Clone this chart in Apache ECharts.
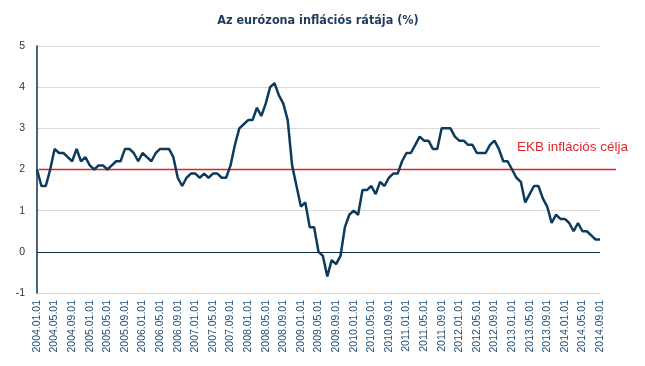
<!DOCTYPE html>
<html>
<head>
<meta charset="utf-8">
<script src="https://cdn.jsdelivr.net/npm/echarts@6/dist/echarts.min.js"></script>
<style>
html,body{margin:0;padding:0;background:#fff;}
#chart{width:645px;height:366px;}
</style>
</head>
<body>
<div id="chart"></div>
<script>
// Monthly categories 2004.01.01 .. 2014.09.01
const startYear = 2004, endYear = 2014, endMonth = 9;
const categories = [];
for (let y = startYear; y <= endYear; y++) {
  for (let m = 1; m <= 12; m++) {
    if (y === endYear && m > endMonth) break;
    categories.push(y + '.' + (m < 10 ? '0' + m : m) + '.01');
  }
}

// Euro area inflation rate (%)
const inflation2004 = [2.0, 1.6, 1.6, 2.0, 2.5, 2.4, 2.4, 2.3, 2.2, 2.5, 2.2, 2.3];
const inflation2005 = [2.1, 2.0, 2.1, 2.1, 2.0, 2.1, 2.2, 2.2, 2.5, 2.5, 2.4, 2.2];
const inflation2006 = [2.4, 2.3, 2.2, 2.4, 2.5, 2.5, 2.5, 2.3, 1.8, 1.6, 1.8, 1.9];
const inflation2007 = [1.9, 1.8, 1.9, 1.8, 1.9, 1.9, 1.8, 1.8, 2.1, 2.6, 3.0, 3.1];
const inflation2008 = [3.2, 3.2, 3.5, 3.3, 3.6, 4.0, 4.1, 3.8, 3.6, 3.2, 2.1, 1.6];
const inflation2009 = [1.1, 1.2, 0.6, 0.6, 0.0, -0.1, -0.6, -0.2, -0.3, -0.1, 0.6, 0.9];
const inflation2010 = [1.0, 0.9, 1.5, 1.5, 1.6, 1.4, 1.7, 1.6, 1.8, 1.9, 1.9, 2.2];
const inflation2011 = [2.4, 2.4, 2.6, 2.8, 2.7, 2.7, 2.5, 2.5, 3.0, 3.0, 3.0, 2.8];
const inflation2012 = [2.7, 2.7, 2.6, 2.6, 2.4, 2.4, 2.4, 2.6, 2.7, 2.5, 2.2, 2.2];
const inflation2013 = [2.0, 1.8, 1.7, 1.2, 1.4, 1.6, 1.6, 1.3, 1.1, 0.7, 0.9, 0.8];
const inflation2014 = [0.8, 0.7, 0.5, 0.7, 0.5, 0.5, 0.4, 0.3, 0.3];
const inflation = [].concat(inflation2004, inflation2005, inflation2006, inflation2007,
  inflation2008, inflation2009, inflation2010, inflation2011, inflation2012,
  inflation2013, inflation2014);

// ECB target
const targetValue = 2;
const targetLabel = 'EKB inflációs célja';
const yTicks = [-1, 0, 1, 2, 3, 4, 5];
const title = 'Az eurózona inflációs rátája (%)';

const chart = echarts.init(document.getElementById('chart'));
chart.setOption({
  animation: false,
  backgroundColor: '#ffffff',
  title: {
    text: title,
    left: 313, top: 9, textAlign: 'center',
    textStyle: { fontFamily: 'DejaVu Sans Condensed, DejaVu Sans', fontWeight: 'bold', fontSize: 12.5, color: '#1f3b5c' }
  },
  grid: [
    { left: 37, right: 45, top: 46, bottom: 73 },
    { left: 39, right: 29, top: 46, bottom: 73 }
  ],
  xAxis: [
    {
      type: 'category', gridIndex: 0, data: categories, boundaryGap: false,
      axisLine: { show: false, onZero: false },
      axisTick: { show: false },
      axisLabel: {
        interval: 3, rotate: 90, margin: 7,
        fontFamily: 'Liberation Sans', fontSize: 10.5, color: '#1f4e79'
      },
      splitLine: { show: false }
    },
    { type: 'value', gridIndex: 1, min: 0, max: 1, show: false }
  ],
  yAxis: [
    {
      type: 'value', gridIndex: 0, min: yTicks[0], max: yTicks[yTicks.length - 1], interval: 1,
      axisLine: { show: true, lineStyle: { color: '#0f2f4f', width: 1.5 } },
      axisTick: { show: false },
      axisLabel: { margin: 12, fontFamily: 'Liberation Sans', fontSize: 10.5, color: '#333333' },
      splitLine: { show: true, lineStyle: { color: '#d9d9d9', width: 1 } }
    },
    { type: 'value', gridIndex: 1, min: yTicks[0], max: yTicks[yTicks.length - 1], show: false }
  ],
  series: [
    {
      type: 'line', xAxisIndex: 1, yAxisIndex: 1, z: 2,
      data: [[0, targetValue], [1, targetValue]],
      symbol: 'none', silent: true,
      lineStyle: { color: '#d9262b', width: 1.5 }
    },
    {
      type: 'line', xAxisIndex: 0, yAxisIndex: 0, z: 3,
      data: inflation, symbol: 'none',
      lineStyle: { color: '#0e3a5c', width: 2.5 },
      markLine: {
        silent: true, symbol: 'none', label: { show: false },
        lineStyle: { color: '#0f2f4f', width: 1.2, type: 'solid' },
        data: [{ yAxis: 0 }]
      }
    }
  ],
  graphic: [
    {
      type: 'text', left: 517, top: 140,
      style: { text: targetLabel, fontFamily: 'Liberation Sans', fontSize: 13.5, fill: '#e0262b' }
    }
  ]
});
</script>
</body>
</html>
